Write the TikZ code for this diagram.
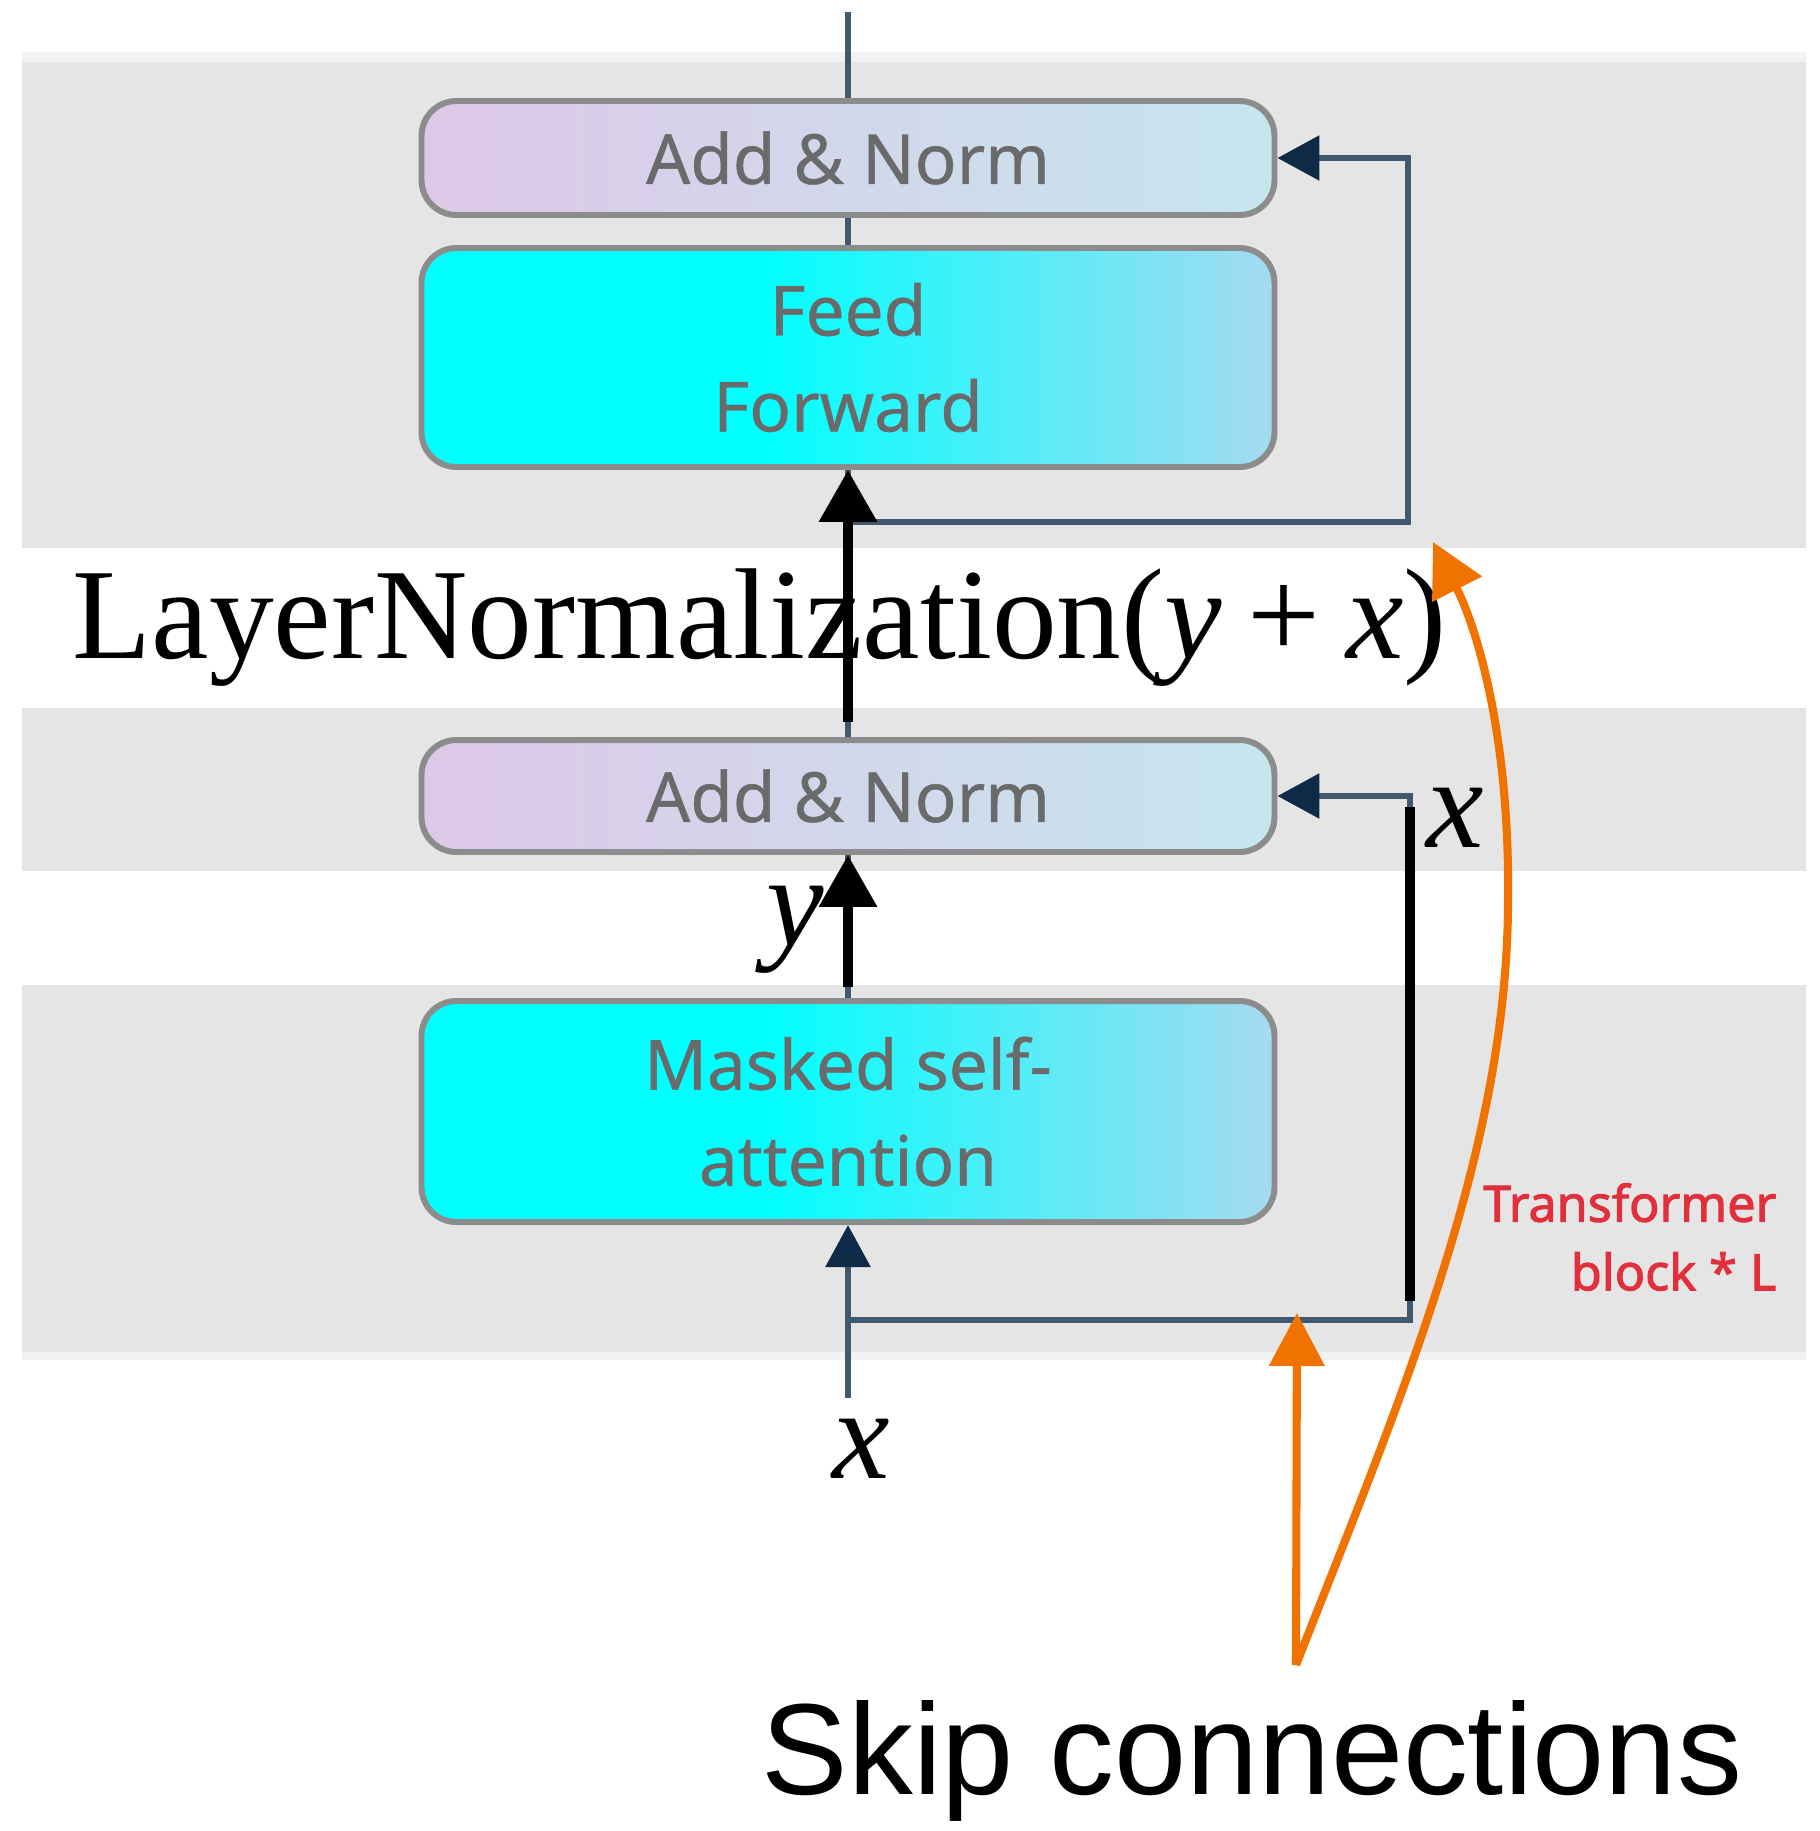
\documentclass[tikz,border=0pt]{standalone}
\usepackage{fontspec}
\setmainfont{Liberation Serif}
\newfontfamily\boxfont[FakeBold=0.6]{Noto Sans}
\newfontfamily\notefont[FakeBold=2]{Noto Sans}
\newfontfamily\helv{Liberation Sans}
\usetikzlibrary{arrows.meta}

\definecolor{bandgray}{HTML}{E5E5E5}
\definecolor{bandedge}{HTML}{F2F2F2}
\definecolor{boxborder}{HTML}{8C8C8C}
\definecolor{boxtext}{HTML}{6A6A6A}
\definecolor{anleft}{HTML}{DEC8E8}
\definecolor{anright}{HTML}{C6E6EE}
\definecolor{ffright}{HTML}{A6DAF0}
\definecolor{wire}{HTML}{40596F}
\definecolor{wiretip}{HTML}{0E2A47}
\definecolor{skiporange}{HTML}{F07300}
\definecolor{blockred}{HTML}{E0303C}

% cyan held flat over the left part, then fading to light blue
\pgfdeclarehorizontalshading{cyanfade}{100bp}{color(0bp)=(cyan); color(45bp)=(cyan); color(75bp)=(ffright); color(100bp)=(ffright)}

\tikzset{
  layerbox/.style={draw=boxborder, line width=1.7pt, rounded corners=3.5mm,
    minimum width=85.3mm, inner sep=0pt, align=center, text=boxtext,
    font=\boxfont\fontsize{19.7}{27.3}\selectfont},
  addnorm/.style={layerbox, left color=anleft, right color=anright, minimum height=11.4mm},
  mainbox/.style={layerbox, shading=cyanfade, minimum height=22mm},
  wireline/.style={draw=wire, line width=1.7pt},
  wirearrow/.style={wireline, -{Triangle[length=4.2mm, width=4.4mm, color=wiretip]}},
  thickline/.style={draw=black, line width=2.9pt},
  thickarrow/.style={thickline, -{Triangle[length=5.2mm, width=5.6mm]}},
  skiparrow/.style={draw=skiporange, line width=2.3pt, -{Triangle[length=5.3mm, width=5.4mm, color=skiporange]}},
  mathlabel/.style={inner sep=0pt, anchor=base, font=\fontsize{36.8}{40}\selectfont\itshape},
}

\begin{document}
\begin{tikzpicture}[x=0.1mm, y=-0.1mm]
\useasboundingbox (0,0) rectangle (1819,1831);

% grey bands behind the sub-layers
\fill[bandedge] (22,52) rectangle (1806,62);
\fill[bandgray] (22,62) rectangle (1806,548);
\fill[bandgray] (22,708) rectangle (1806,871);
\fill[bandgray] (22,985) rectangle (1806,1352);
\fill[bandedge] (22,1352) rectangle (1806,1360);

% blocks
\node[addnorm] (an2) at (848,158) {Add \& Norm};
\node[mainbox, minimum height=21.9mm] (ff) at (848,357.5) {Feed\\Forward};
\node[addnorm, minimum height=11.2mm] (an1) at (848,796) {Add \& Norm};
\node[mainbox, minimum height=22.1mm] (mask) at (848,1111.5) {Masked self-\\attention};

% coordinates for wire ends and corners
\coordinate (topend) at (848,12);
\coordinate (ffbranch) at (848,522);
\coordinate (ffcorner) at (1408,522);
\coordinate (lnstart) at (848,722);
\coordinate (ystart) at (848,987);
\coordinate (xin) at (848,1398);
\coordinate (xbranch) at (848,1320);
\coordinate (xcorner) at (1410,1320);
\coordinate (xbartop) at (1410,807);
\coordinate (xbarbot) at (1410,1301);
\coordinate (skipsrc) at (1296,1665);
\coordinate (skiplow) at (1297,1313);
\coordinate (skipbend) at (1508,900);
\coordinate (skiphigh) at (1433,542);

% thin wires of the block
\draw[wireline] (an2.north) -- (topend);
\draw[wireline] (ff.north) -- (an2.south);
\draw[wireline] (an1.north) -- (ff.south);
\draw[wireline] (mask.north) -- (an1.south);
\draw[wirearrow] (xin) -- (mask.south);
\draw[wirearrow] (ffbranch) -- (ffcorner) |- (an2.east);
\draw[wirearrow] (xbranch) -- (xcorner) |- (an1.east);

% emphasised data flow
\draw[thickarrow] (lnstart) -- (ff.south);
\draw[thickarrow] (ystart) -- (an1.south);
\draw[thickline] (xbartop) -- (xbarbot);

% formula and symbols
\node[inner sep=0pt, anchor=base west, font=\fontsize{36.8}{40}\selectfont] (lnorm) at (72,658)
  {LayerNormalization(\textit{y}\hspace{0.2em}+\hspace{0.2em}\textit{x})};
\node[mathlabel] (ylab) at (795,945) {y};
\node[mathlabel] (xmid) at (1455,847) {x};
\node[mathlabel] (xbot) at (861,1478) {x};

% block repetition note
\node[anchor=east, align=right, inner sep=0pt, text=blockred,
  font=\notefont\fontsize{14.3}{19.5}\selectfont] (rep) at (1777,1237)
  {Transformer\\block * L};

% skip connection callout
\node[inner sep=0pt, anchor=base west, font=\helv\fontsize{36.9}{40}\selectfont] (skiplab) at (761,1794) {Skip connections};
\draw[skiparrow] (skipsrc) -- (skiplow);
\draw[skiparrow] (skipsrc) .. controls (1400,1400) and (1508,1150) .. (skipbend)
  .. controls (1510,740) and (1478,630) .. (skiphigh);
\end{tikzpicture}
\end{document}
